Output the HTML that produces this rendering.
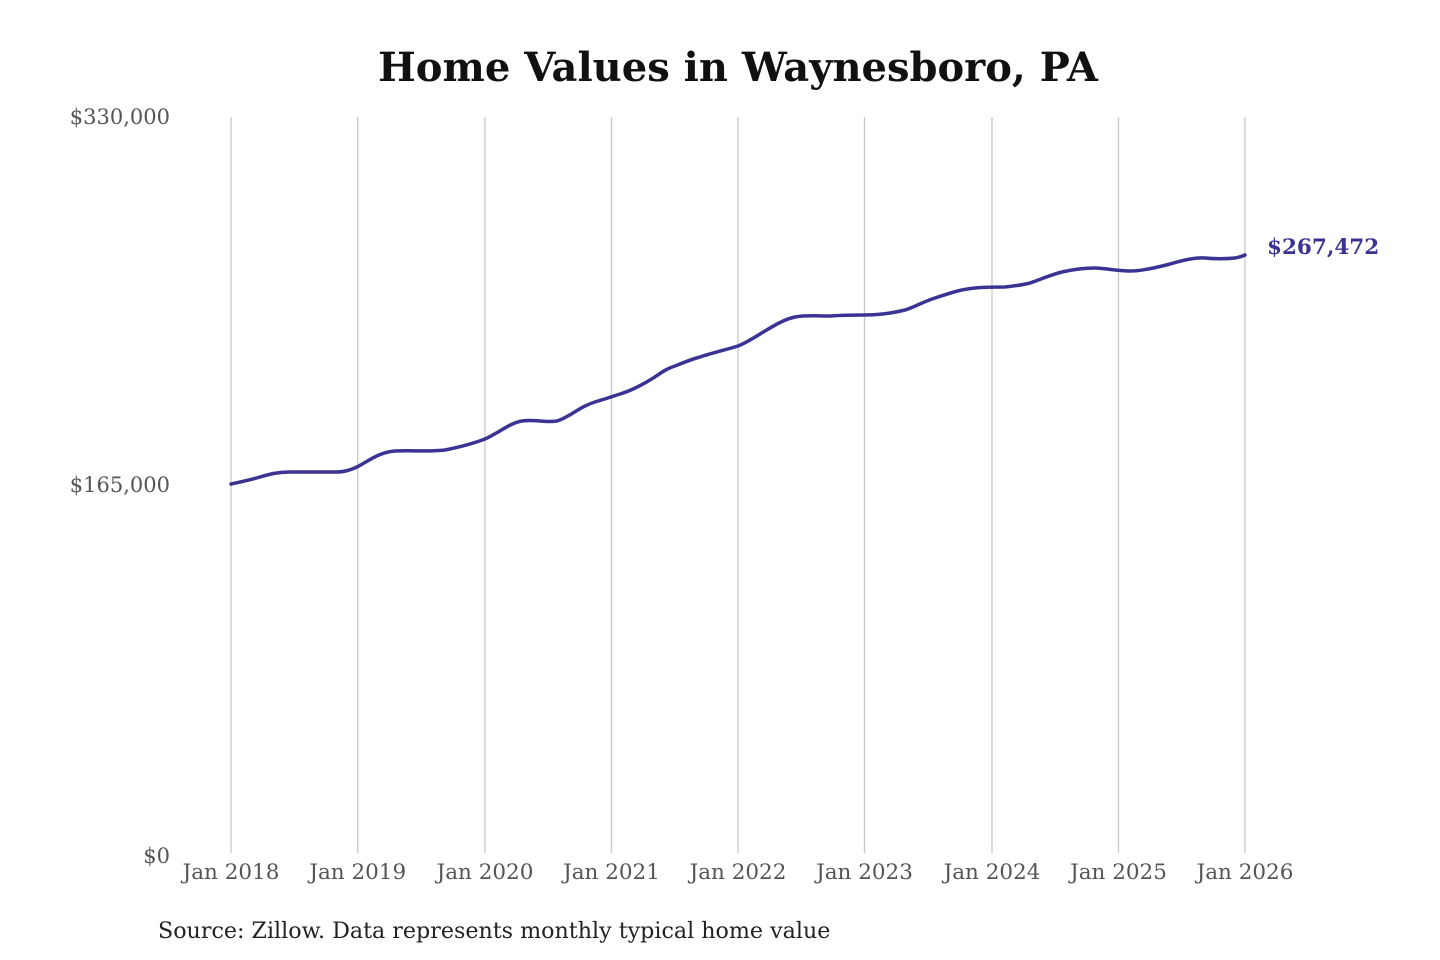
<!DOCTYPE html>
<html><head><meta charset="utf-8"><style>
html,body{margin:0;padding:0;background:#fff;}
svg{display:block;}
</style></head><body>
<svg width="1440" height="960" xmlns="http://www.w3.org/2000/svg" font-family="'DejaVu Serif','Liberation Serif',serif">
<text x="738" y="81" text-anchor="middle" font-size="40" font-weight="bold" fill="#111">Home Values in Waynesboro, PA</text>
<g stroke="#c8c8c8" stroke-width="1.3">
<line x1="231" y1="117" x2="231" y2="853"/>
<line x1="357.75" y1="117" x2="357.75" y2="853"/>
<line x1="485" y1="117" x2="485" y2="853"/>
<line x1="611.5" y1="117" x2="611.5" y2="853"/>
<line x1="738" y1="117" x2="738" y2="853"/>
<line x1="864.5" y1="117" x2="864.5" y2="853"/>
<line x1="992" y1="117" x2="992" y2="853"/>
<line x1="1118.5" y1="117" x2="1118.5" y2="853"/>
<line x1="1245" y1="117" x2="1245" y2="853"/>
</g>
<g font-size="21" fill="#555" text-anchor="end">
<text x="170" y="124">$330,000</text>
<text x="170" y="492">$165,000</text>
<text x="170" y="863">$0</text>
</g>
<g font-size="21.5" fill="#555" text-anchor="middle">
<text x="231" y="879">Jan 2018</text>
<text x="357.75" y="879">Jan 2019</text>
<text x="485" y="879">Jan 2020</text>
<text x="611.5" y="879">Jan 2021</text>
<text x="738" y="879">Jan 2022</text>
<text x="864.5" y="879">Jan 2023</text>
<text x="992" y="879">Jan 2024</text>
<text x="1118.5" y="879">Jan 2025</text>
<text x="1245" y="879">Jan 2026</text>
</g>
<path fill="none" stroke="#3b3394" stroke-width="3.5" stroke-linejoin="round" stroke-linecap="round"
d="M231,484 C240,482 250,480 260,477 C270,474 278,472 290,472 C305,472 320,472 335,472 C345,472 350,470 357,467 C370,460 380,452 395,451 C410,450 430,452 445,450 C460,447 472,444 485,439 C500,432 510,423 522,421 C535,419 545,423 557,421 C570,417 580,406 598,401 C605,399 611,397 620,394 C630,391 640,386 650,380 C660,374 665,369 675,366 C685,362 692,359 700,357 C712,353 725,350 738,346 C748,342 755,337 765,331 C775,325 785,319 795,317 C805,315 815,316 830,316 C845,315 855,315 864,315 C880,315 893,313 905,310 C915,307 920,303 935,298 C950,293 962,289 975,288 C985,287 995,287 1005,287 C1015,286 1022,285 1030,283 C1042,279 1050,275 1062,272 C1075,269 1085,268 1095,268 C1105,268 1115,271 1130,271 C1142,271 1155,268 1170,264 C1180,261 1195,257 1205,258 C1215,259 1225,259 1235,258 C1240,257 1243,256 1245,255"/>
<text x="1267" y="254" font-size="21.5" font-weight="bold" fill="#3b3394">$267,472</text>
<text x="158" y="938" font-size="22.2" fill="#222">Source: Zillow. Data represents monthly typical home value</text>
</svg>
</body></html>
